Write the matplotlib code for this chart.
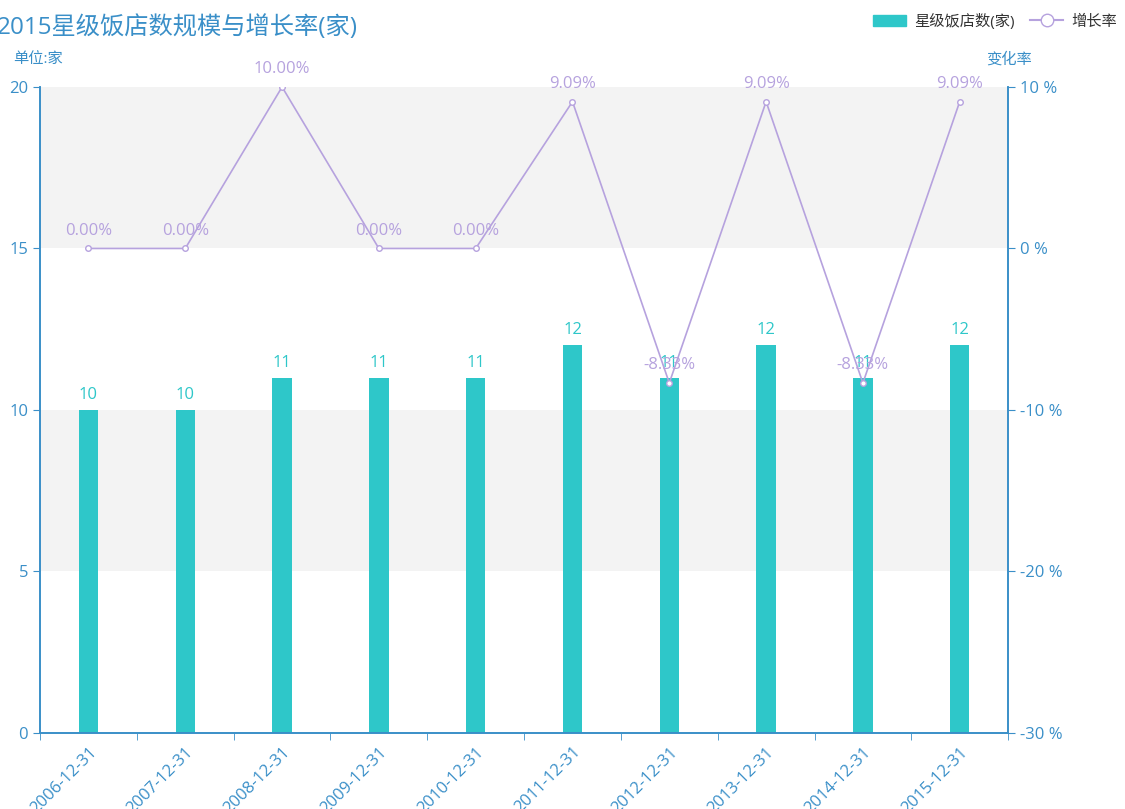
import matplotlib.pyplot as plt
from matplotlib.lines import Line2D
from matplotlib.patches import Patch

plt.rcParams['font.family'] = ['Open Sans', 'Noto Sans CJK SC', 'DejaVu Sans']

dates = ['2006-12-31', '2007-12-31', '2008-12-31', '2009-12-31', '2010-12-31',
         '2011-12-31', '2012-12-31', '2013-12-31', '2014-12-31', '2015-12-31']
hotels = [10, 10, 11, 11, 11, 12, 11, 12, 11, 12]
growth = [0.00, 0.00, 10.00, 0.00, 0.00, 9.09, -8.33, 9.09, -8.33, 9.09]

teal = '#2ec7c9'
purple = '#b6a2de'
blue = '#3a8fc8'

fig = plt.figure(figsize=(11.25, 8.09), dpi=100)
ax = fig.add_axes([0.0356, 0.094, 0.8605, 0.7985])
ax2 = ax.twinx()

x = list(range(len(dates)))

# alternating background bands
for i, lo in enumerate([0, 5, 10, 15]):
    if i % 2 == 1:
        ax.axhspan(lo, lo + 5, color='#f3f3f3', zorder=0, lw=0)

ax.bar(x, hotels, width=0.2, color=teal, zorder=2)
for xi, v in zip(x, hotels):
    ax.text(xi, v + 0.22, str(v), ha='center', va='bottom', color=teal, fontsize=12)

ax2.plot(x, growth, color=purple, lw=1.2, marker='o', markersize=4,
         markerfacecolor='white', markeredgecolor=purple, zorder=3)
for xi, v in zip(x, growth):
    ax2.text(xi, v + 0.6, f'{v:.2f}%', ha='center', va='bottom', color=purple, fontsize=12)

ax.set_xlim(-0.5, len(dates) - 0.5)
ax.set_ylim(0, 20)
ax2.set_ylim(-30, 10)
ax.set_yticks([0, 5, 10, 15, 20])
ax2.set_yticks([-30, -20, -10, 0, 10])
ax2.set_yticklabels([f'{t} %' for t in [-30, -20, -10, 0, 10]])

ax.set_xticks(x)
ax.set_xticklabels(dates, rotation=45, ha='right', rotation_mode='anchor')
ax.set_xticks([i - 0.5 for i in range(len(dates) + 1)], minor=True)
ax.tick_params(axis='x', which='major', length=0, colors=blue, labelsize=12, pad=8)
ax.tick_params(axis='x', which='minor', length=5, color=blue)
ax.tick_params(axis='y', colors=blue, labelsize=12, length=5)
ax2.tick_params(axis='y', colors=blue, labelsize=12, length=5)

for a in (ax, ax2):
    a.spines['top'].set_visible(False)
    for s in ('left', 'right', 'bottom'):
        a.spines[s].set_color(blue)
        a.spines[s].set_linewidth(1.2)

fig.text(-0.003, 0.966, '2015星级饭店数规模与增长率(家)', color=blue, fontsize=17.5, va='center', ha='left')
fig.text(0.012, 0.926, '单位:家', color=blue, fontsize=11, va='center')
fig.text(0.897, 0.926, '变化率', color=blue, fontsize=11, va='center', ha='center')

handles = [Patch(facecolor=teal, edgecolor=teal),
           Line2D([], [], color=purple, marker='o', markersize=9,
                  markerfacecolor='white', markeredgecolor=purple)]
fig.legend(handles, ['星级饭店数(家)', '增长率'], loc='upper right',
           bbox_to_anchor=(1.005, 1.0), ncol=2, frameon=False, fontsize=11,
           handlelength=2.2, columnspacing=1.0, handletextpad=0.5, labelcolor='#333333')

fig.savefig('out.png', dpi=100)
